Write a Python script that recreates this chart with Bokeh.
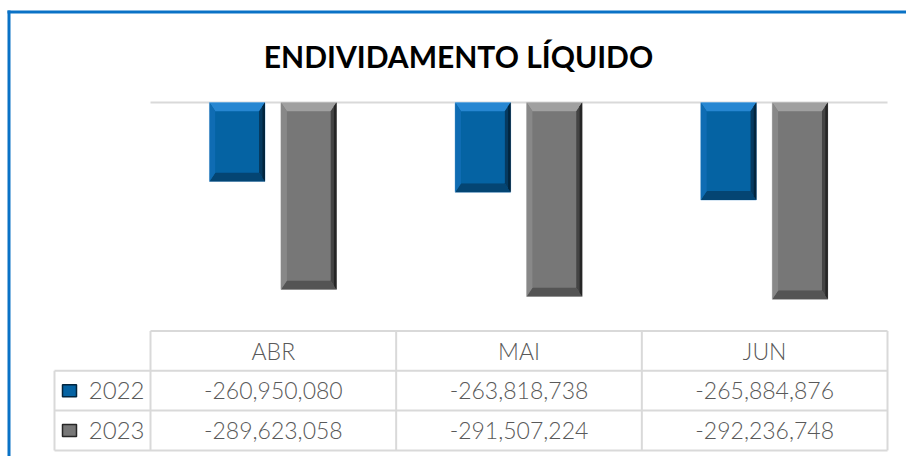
from bokeh.plotting import figure
from bokeh.models import Range1d, Label
from bokeh.embed import file_html
from bokeh.resources import INLINE
from bokeh.core.properties import value

# ---------------- data ----------------
title_text = "ENDIVIDAMENTO LÍQUIDO"
months = ["ABR", "MAI", "JUN"]
series_names = ["2022", "2023"]
values_2022 = [-260950080, -263818738, -265884876]
values_2023 = [-289623058, -291507224, -292236748]
axis_max = -240e6
axis_min = -300e6

# ---------------- layout (pixels) ----------------
W = 906
H = 456
UNIT = 245.67          # px per category
PLOT_LEFT = 150        # canvas px where the category area begins
BASE_Y = 102           # canvas px (from top) of the value axis maximum
PX_PER_VAL = 226.0 / (axis_max - axis_min)
ROW_PX = 39.8
TAB_TOP = 330.5        # canvas px (from top) of the table's top line

BLUE = dict(main="#0563A3", top="#2787D2", left="#0F6CB3", right="#063A60",
            dark="#02253E", bottom="#044573", edge="#A9CBE8")
GRAY = dict(main="#777777", top="#A0A0A0", left="#888888", right="#444444",
            dark="#262626", bottom="#545454", edge="#CFCFCF")
BORDER = "#0A72C6"
GRID = "#D9D9D9"
TXT = "#595959"
FONT = "Lato Light"

x_start = -PLOT_LEFT / UNIT
x_end = x_start + W / UNIT
y_end = axis_max + BASE_Y / PX_PER_VAL
y_start = y_end - H / PX_PER_VAL
ry_end = 3 + TAB_TOP / ROW_PX
ry_start = ry_end - H / ROW_PX

p = figure(width=W, height=H, x_range=Range1d(x_start, x_end),
           y_range=Range1d(y_start, y_end),
           output_backend="svg", toolbar_location=None, min_border=0,
           x_axis_location=None, y_axis_location=None,
           outline_line_color=None, background_fill_color="white",
           border_fill_color="white")
p.xgrid.visible = False
p.ygrid.visible = False
p.extra_y_ranges = {"rows": Range1d(ry_start, ry_end)}

# chart box border (left and top edges)
p.quad(left=[x_start + 7 / UNIT], right=[x_start + 10 / UNIT],
       top=[y_end - 10 / PX_PER_VAL], bottom=[y_start - 10 / PX_PER_VAL],
       fill_color=BORDER, line_color=None)
p.quad(left=[x_start + 7 / UNIT], right=[x_end + 0.1],
       top=[y_end - 10 / PX_PER_VAL], bottom=[y_end - 13 / PX_PER_VAL],
       fill_color=BORDER, line_color=None)

# value axis max line (top gridline)
p.line([0, len(months)], [axis_max, axis_max], line_color=GRID, line_width=2)

# ---------------- bars with bevel ----------------
BW = 0.226
OFFS = [-0.147, 0.144]
dx = 6 / UNIT
dy = 9 / PX_PER_VAL
ds = 2.5 / UNIT

for vals, off, pal in [(values_2022, OFFS[0], BLUE), (values_2023, OFFS[1], GRAY)]:
    xs, ys, cols = [], [], []
    L_, R_, T_, B_ = [], [], [], []
    for i, v in enumerate(vals):
        c = i + 0.5 + off
        L, R = c - BW / 2, c + BW / 2
        T, B = axis_max, v
        L_.append(L); R_.append(R); T_.append(T); B_.append(B)
        xs.append([L, R, R - dx, L + dx]); ys.append([T, T, T - dy, T - dy]); cols.append(pal["top"])
        xs.append([L, R, R - dx, L + dx]); ys.append([B, B, B + dy, B + dy]); cols.append(pal["bottom"])
        xs.append([L, L + dx, L + dx, L]); ys.append([T, T - dy, B + dy, B]); cols.append(pal["left"])
        xs.append([R, R - dx, R - dx, R]); ys.append([T, T - dy, B + dy, B]); cols.append(pal["right"])
        xs.append([R, R - ds, R - ds, R]); ys.append([T, T - dy * ds / dx, B + dy * ds / dx, B]); cols.append(pal["dark"])
    p.quad(left=L_, right=R_, top=T_, bottom=B_, fill_color=pal["main"],
           line_color=pal["edge"], line_width=1)
    p.patches(xs=xs, ys=ys, fill_color=cols, line_color=None)
    p.quad(left=[l + dx for l in L_], right=[r - dx for r in R_],
           top=[t - dy for t in T_], bottom=[b + dy for b in B_],
           fill_color=pal["main"], line_color=None)

p.add_layout(Label(x=x_start + 458 / UNIT, y=y_end - 55 / PX_PER_VAL,
                   text=title_text, text_align="center", text_baseline="middle",
                   text_font="Lato", text_font_style="bold", text_font_size="30px",
                   text_color="black"))

# ---------------- data table ----------------
HL = -96 / UNIT  # left edge of row-header column
n = len(months)
x0, y0, x1, y1 = [], [], [], []
for i in range(n + 1):
    x0.append(i); x1.append(i); y0.append(0); y1.append(3)
x0.append(HL); x1.append(HL); y0.append(0); y1.append(2)
for r in range(3):
    x0.append(HL); x1.append(n); y0.append(r); y1.append(r)
x0.append(0); x1.append(n); y0.append(3); y1.append(3)
p.segment(x0=x0, y0=y0, x1=x1, y1=y1, line_color=GRID, line_width=2,
          y_range_name="rows")

p.text(x=[i + 0.5 for i in range(n)], y=[2.5] * n, text=months,
       text_align="center", text_baseline="middle", text_color=TXT,
       text_font=value(FONT), text_font_size="23px", y_range_name="rows")

rows = [(values_2022, 1.5, series_names[0], BLUE), (values_2023, 0.5, series_names[1], GRAY)]
for vals, yr, name, pal in rows:
    p.text(x=[i + 0.5 for i in range(n)], y=[yr] * n, text=[f"{v:,}" for v in vals],
           text_align="center", text_baseline="middle", text_color=TXT,
           text_font=value(FONT), text_font_size="23px", y_range_name="rows")
    p.text(x=[-6 / UNIT], y=[yr], text=[name], text_align="right",
           text_baseline="middle", text_color=TXT,
           text_font=value(FONT), text_font_size="24px", y_range_name="rows")
    p.rect(x=[HL + 15 / UNIT], y=[yr], width=14, height=12,
           width_units="screen", height_units="screen",
           fill_color=pal["main"], line_color=pal["dark"], line_width=1.5,
           y_range_name="rows")

open("out.html", "w").write(file_html(p, INLINE))
